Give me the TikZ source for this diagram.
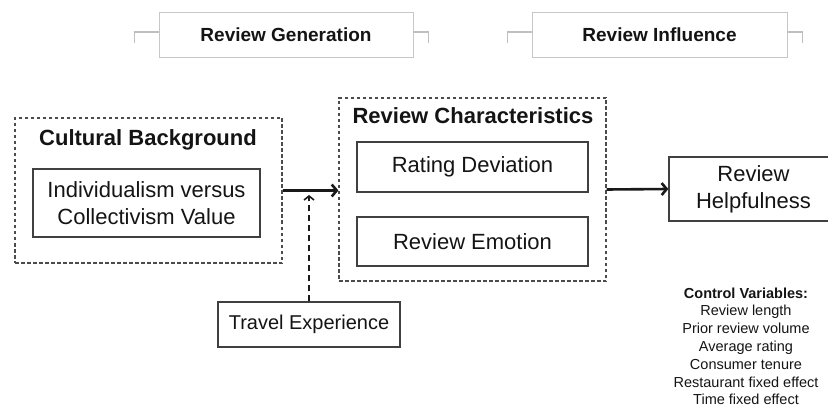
\documentclass[tikz,border=0pt]{standalone}
\usepackage{fontspec}
\setmainfont{Liberation Sans}
\usepackage{tikz}
\usetikzlibrary{arrows.meta}

\begin{document}
\begin{tikzpicture}[x=1pt, y=-1pt, text=black!92,
  stagebox/.style={draw=black!22, line width=0.8pt, minimum height=45pt, font=\fontsize{19}{23}\selectfont\bfseries},
  bracket/.style={draw=black!25, line width=1.2pt},
  groupbox/.style={draw=black!70, line width=1.1pt, dash pattern=on 3.5pt off 2.5pt},
  grouptitle/.style={font=\fontsize{22}{26}\selectfont\bfseries},
  itembox/.style={draw=black!75, line width=1.3pt, align=center, font=\fontsize{22}{27}\selectfont},
  flow/.style={draw=black!90, line width=2.6pt, -{Straight Barb[length=5pt,width=12pt]}}
]
\useasboundingbox (0,0) rectangle (828,409);

% stages on top
\node[stagebox, minimum width=254pt] (gen) at (286,34.5) {Review Generation};
\node[stagebox, minimum width=255pt] (infl) at (659.5,34.5) {Review Influence};
\draw[bracket] (gen.west) ++(0,-2.5) -| ++(-24,11);
\draw[bracket] (gen.east) ++(0,-2.5) -| ++(15,11);
\draw[bracket] (infl.west) ++(0,-2.5) -| ++(-24,11);
\draw[bracket] (infl.east) ++(0,-2.5) -| ++(15,11);

% groups
\node[groupbox, minimum width=267pt, minimum height=145pt] (cult) at (148.5,190.5) {};
\node[grouptitle] (cultT) at (148,140) {Cultural Background};
\node[itembox, minimum width=227pt, minimum height=68pt] (indiv) at (146.5,203) {Individualism versus\\Collectivism Value};

\node[groupbox, minimum width=267pt, minimum height=183pt] (charac) at (472.5,189.5) {};
\node[grouptitle] (characT) at (473,116) {Review Characteristics};
\node[itembox, minimum width=231pt, minimum height=50pt] (rating) at (472.5,167) {Rating Deviation};
\node[itembox, minimum width=231pt, minimum height=49pt] (emotion) at (472.5,241.5) {Review Emotion};

\node[itembox, minimum width=169pt, minimum height=64pt] (helpful) at (753.5,189) {Review\\Helpfulness};
\node[itembox, minimum width=182pt, minimum height=45pt, font=\fontsize{20}{24}\selectfont] (travel) at (309,324.5) {Travel Experience};

\node[align=center, anchor=north, font=\fontsize{14.5}{17.8}\selectfont] (ctrl) at (746,284) {\textbf{Control Variables:}\\Review length\\Prior review volume\\Average rating\\Consumer tenure\\Restaurant fixed effect\\Time fixed effect};

% arrows
\coordinate (join) at (309,195);
\draw[flow] (cult.east) -- (cult.east -| charac.west);
\draw[flow] (charac.east) -- (helpful.west);
\draw[flow, line width=1.6pt, dash pattern=on 6pt off 4pt, -{Straight Barb[length=4pt,width=10pt]}] (travel.north) -- (join);

\end{tikzpicture}
\end{document}
